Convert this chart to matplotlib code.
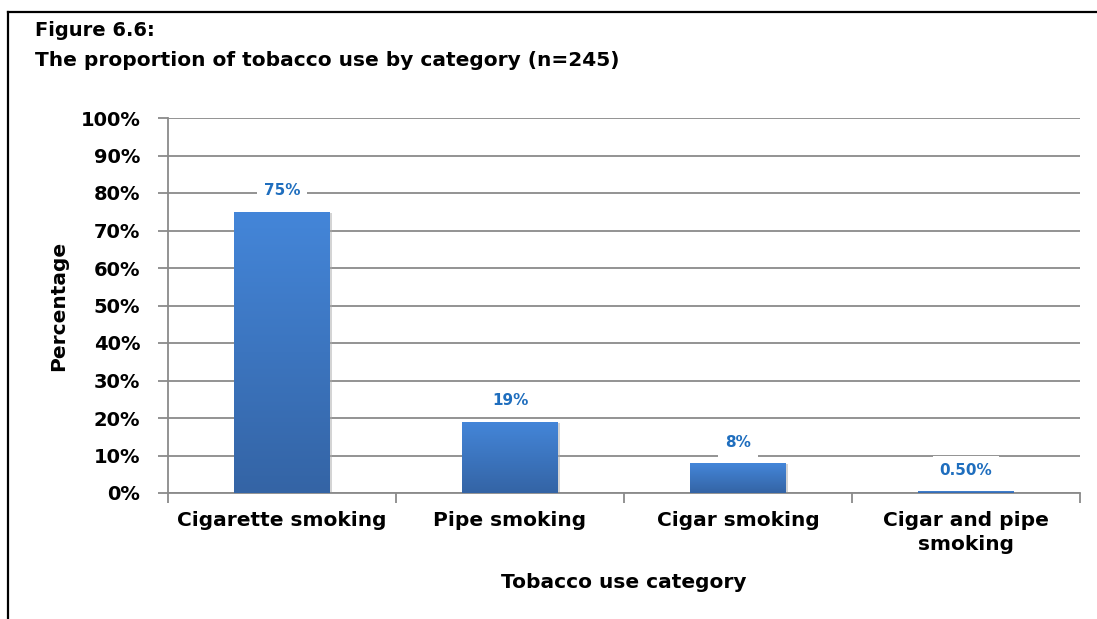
import matplotlib
matplotlib.use("Agg")
import matplotlib.pyplot as plt
import numpy as np
from matplotlib.lines import Line2D
from matplotlib.patches import Rectangle
from matplotlib.colors import LinearSegmentedColormap

categories = ["Cigarette smoking", "Pipe smoking", "Cigar smoking", "Cigar and pipe\nsmoking"]
values = [75, 19, 8, 0.5]
value_labels = ["75%", "19%", "8%", "0.50%"]
yticks = [0, 10, 20, 30, 40, 50, 60, 70, 80, 90, 100]
ytick_labels = [f"{v}%" for v in yticks]
title_lines = ["Figure 6.6:", "The proportion of tobacco use by category (n=245)"]

plt.rcParams['font.family'] = ['DejaVu Sans']
W, H = 1097, 619
fig = plt.figure(figsize=(W / 100, H / 100), dpi=100)
ax = fig.add_axes([168 / W, 1 - 493 / H, (1080 - 168) / W, (493 - 118) / H])

x = np.arange(len(categories))
bw = 0.42
bars = ax.bar(x, values, width=bw, color="#3E78C4", zorder=3)

grad = np.linspace(0, 1, 256).reshape(-1, 1)
cmap = LinearSegmentedColormap.from_list("g", ["#3464A5", "#4486D9"])
for b in bars:
    bx, by = b.get_x(), b.get_y()
    bwid, bh = b.get_width(), b.get_height()
    sh = Rectangle((bx + 0.008, by - 0.3), bwid, bh, color="#aaaaaa", alpha=0.5, zorder=2.5, lw=0)
    ax.add_patch(sh)
    im = ax.imshow(grad, extent=[bx, bx + bwid, by, by + bh], origin="lower", cmap=cmap,
                   aspect="auto", zorder=3.2)
    im.set_clip_path(b)

for xi, v, lab in zip(x, values, value_labels):
    ax.annotate(lab, (xi, v), xytext=(0, 15), textcoords="offset points", ha="center", va="center",
                fontsize=11, fontweight="bold", color="#1F6EBE", zorder=5,
                bbox=dict(boxstyle="square,pad=0.45", fc="white", ec="none"))

ax.set_xlim(-0.5, 3.5)
ax.set_ylim(0, 100)
ax.set_yticks(yticks)
ax.set_yticklabels(ytick_labels, fontsize=14, fontweight="bold")
ax.yaxis.grid(True, color="#8a8a8a", lw=1.3, zorder=0)
ax.set_axisbelow(True)

ax.set_xticks(x)
ax.set_xticklabels(categories, fontsize=14.5, fontweight="bold", linespacing=1.3)
ax.set_xticks([-0.5, 0.5, 1.5, 2.5, 3.5], minor=True)
ax.tick_params(axis="x", which="major", length=0, pad=13)
ax.tick_params(axis="x", which="minor", length=7, color="#8a8a8a", width=1.3, direction="out")
ax.tick_params(axis="y", length=7, color="#8a8a8a", width=1.3, direction="out", pad=13)

for s in ["top", "right"]:
    ax.spines[s].set_visible(False)
for s in ["left", "bottom"]:
    ax.spines[s].set_color("#8a8a8a")
    ax.spines[s].set_linewidth(1.3)

ax.set_ylabel("Percentage", fontsize=14.5, fontweight="bold", labelpad=9)
ax.set_xlabel("Tobacco use category", fontsize=14.5, fontweight="bold", labelpad=14)

fig.text(35 / W, 1 - 30 / H, title_lines[0], fontsize=14, fontweight="bold", va="center", ha="left")
fig.text(35 / W, 1 - 60 / H, title_lines[1], fontsize=14.5, fontweight="bold", va="center", ha="left")

fig.add_artist(Line2D([8 / W, 8 / W], [0, 1 - 12 / H], color="black", lw=1.6))
fig.add_artist(Line2D([8 / W, 1], [1 - 12 / H, 1 - 12 / H], color="black", lw=1.6))

fig.savefig("out.png", dpi=100)
